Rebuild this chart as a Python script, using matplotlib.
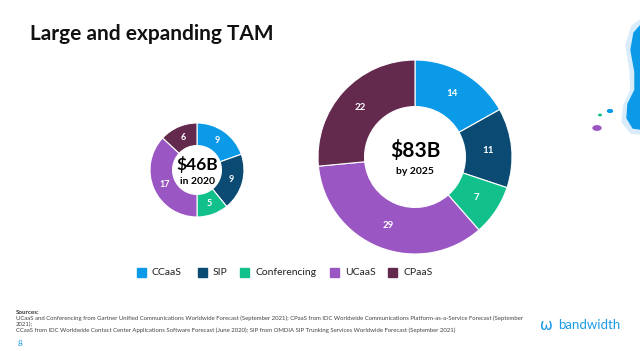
import matplotlib.pyplot as plt
from matplotlib.patches import Circle, Rectangle, Polygon

W, H = 640, 351

segments = ["CCaaS", "SIP", "Conferencing", "UCaaS", "CPaaS"]
colors = ["#0b9ae8", "#0b4a73", "#12c08b", "#9a57c3", "#632a4e"]
tam_2020 = [9, 9, 5, 17, 6]
tam_2025 = [14, 11, 7, 29, 22]
totals = ["$46B", "$83B"]
years = ["in 2020", "by 2025"]

sources = [
    "UCaaS and Conferencing from Gartner Unified Communications Worldwide Forecast (September 2021); CPaaS from IDC Worldwide Communications Platform-as-a-Service Forecast (September",
    "2021);",
    "CCaaS from IDC Worldwide Contact Center Applications Software Forecast (June 2020); SIP from OMDIA SIP Trunking Services Worldwide Forecast (September 2021)",
]

FONT = "Lato"


def fx(x):
    return x / W


def fy(y):
    return 1 - y / H


def donut(cx, cy, r, values, total, year, big_size, small_size, lbl_size, ty, yy):
    ax = fig.add_axes([fx(cx - r), fy(cy + r), 2 * r / W, 2 * r / H])
    ax.pie(values, colors=colors, startangle=90, counterclock=False,
           radius=1, wedgeprops=dict(width=0.48, edgecolor="white", linewidth=0.8))
    ax.pie(values, radius=1, startangle=90, counterclock=False,
           colors=["none"] * len(values), labels=[str(v) for v in values],
           labeldistance=0.76,
           textprops=dict(color="white", fontsize=lbl_size, fontweight="bold", family=FONT,
                          ha="center", va="center"),
           wedgeprops=dict(linewidth=0))
    ax.text(0, ty, total, ha="center", va="center", fontsize=big_size,
            fontweight="bold", family=FONT, color="black")
    ax.text(0, yy, year, ha="center", va="center", fontsize=small_size,
            fontweight="bold", family=FONT, color="black")
    ax.set_xlim(-1, 1)
    ax.set_ylim(-1, 1)
    ax.set_aspect("equal")
    ax.axis("off")
    return ax


fig = plt.figure(figsize=(6.4, 3.51), dpi=100)
fig.patch.set_facecolor("white")

fig.text(fx(30), fy(34), "Large and expanding TAM", fontsize=15, fontweight="bold",
         family=FONT, color="#111111", va="center", ha="left")

donut(197, 170, 47, tam_2020, totals[0], years[0], 12.5, 7.5, 6.5, 0.11, -0.24)
donut(415, 157, 97, tam_2025, totals[1], years[1], 15, 7.5, 7, 0.07, -0.145)

# legend
lx = [137, 198, 240, 330, 388]
for x, name, c in zip(lx, segments, colors):
    fig.patches.append(Rectangle((fx(x), fy(277)), 9 / W, 9 / H, transform=fig.transFigure,
                                 color=c))
    fig.text(fx(x + 15), fy(272.5), name, fontsize=7.5, family=FONT, color="#222222",
             va="center", ha="left")

# sources
fig.text(fx(16), fy(312), "Sources:", fontsize=4.5, fontweight="bold", family=FONT,
         color="#333333", va="center")
for s, y in zip(sources, [318, 324, 330.5]):
    fig.text(fx(16), fy(y), s, fontsize=4.3, family=FONT, color="#444444", va="center")
fig.text(fx(18), fy(344), "8", fontsize=6, family=FONT, color="#1a9be6", va="center")

# bandwidth logo
fig.text(fx(558), fy(325), "bandwidth", fontsize=9.5, family=FONT, color="#1a9be6",
         va="center", ha="left")
fig.text(fx(546), fy(325), "\u03c9", fontsize=11, family="DejaVu Sans", color="#1a9be6",
         va="center", ha="center")

# decorative blob and dots
blob_halo = [(640, 20), (632, 26), (626, 45), (630, 70), (631, 90), (624, 105),
             (622, 122), (631, 133), (640, 134)]
blob = [(640, 26), (634, 33), (631, 50), (635, 72), (635, 90), (628, 104),
        (627, 118), (633, 128), (640, 129)]
fig.patches.append(Polygon([(fx(x), fy(y)) for x, y in blob_halo], closed=True,
                           transform=fig.transFigure, color="#d8ecfb"))
fig.patches.append(Polygon([(fx(x), fy(y)) for x, y in blob], closed=True,
                           transform=fig.transFigure, color="#0b9ae8"))
for (x, y, r, c) in [(597, 128, 4, "#9a57c3"), (610, 111, 2.5, "#0b9ae8"),
                     (600, 115, 1.3, "#12c08b")]:
    fig.patches.append(Circle((fx(x), fy(y)), r / W, transform=fig.transFigure, color=c))

fig.savefig("out.png", dpi=100)
